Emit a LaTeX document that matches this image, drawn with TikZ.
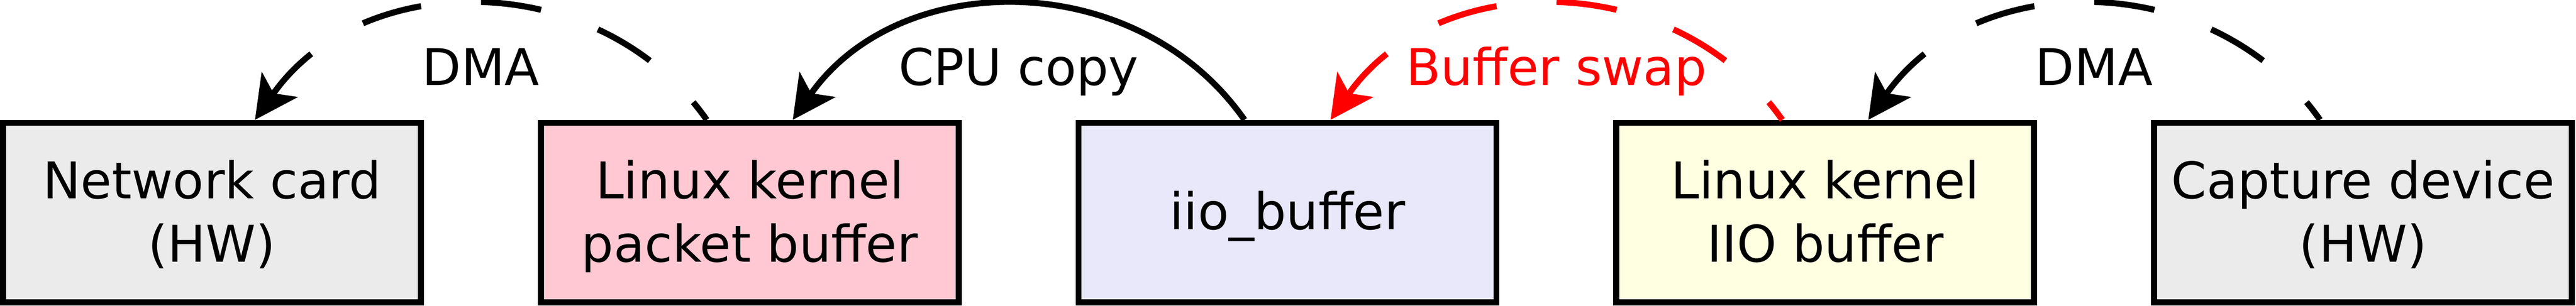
\documentclass[tikz,border=0pt]{standalone}
\usepackage{fontspec}
\setmainfont{DejaVu Sans}
\usetikzlibrary{positioning,arrows.meta}
\definecolor{hwgray}{RGB}{235,235,235}
\definecolor{pktpink}{RGB}{255,200,210}
\definecolor{iioblue}{RGB}{232,232,250}
\definecolor{iioyellow}{RGB}{255,255,225}
\begin{document}
\begin{tikzpicture}
			[block/.style={rectangle,draw,line width=1.2pt,minimum width=82.6pt,minimum height=35.5pt,align=center,
				font=\fontsize{10pt}{12.5pt}\selectfont,text height=20pt,text depth=0.5pt},
			lbl/.style={inner sep=0pt,font=\fontsize{10pt}{12pt}\selectfont,text height=7.29pt,text depth=0pt},
			dma/.style={dash pattern=on 12pt off 11.9pt,dash phase=7.6pt},
			>={Stealth[length=8.5pt,width=8.6pt,inset=2.1pt]},node distance=22.5pt]
			\useasboundingbox (0,0) rectangle (509.2pt,60.4pt);
			\node[block,name=net,fill=hwgray,anchor=south west] at (0,0) {Network card\\(HW)};
			\node[block,name=pkt,fill=pktpink,right=of net] {Linux kernel\\packet buffer};
			\node[block,name=iio,fill=iioblue,right=of pkt,text height=7.5pt,text depth=0.8pt] {iio\_buffer};
			\node[block,name=kbuf,fill=iioyellow,right=of iio] {Linux kernel\\IIO buffer};
			\node[block,name=cap,fill=hwgray,right=of kbuf] {Capture device\\(HW)};
			% copies between the buffers
			\draw[->,line width=1.2pt,dma]([xshift=-8.5pt]pkt.north) to [bend right=55,looseness=1.06] node[lbl,midway,below=7.9pt]{DMA} ([xshift=8.5pt]net.north);
			\draw[->,line width=1.2pt]([xshift=-8.5pt]iio.north) to [bend right=55,looseness=1.06] node[lbl,midway,below=7.9pt]{CPU copy} ([xshift=8.5pt]pkt.north);
			\draw[->,line width=1.2pt,dma,red]([xshift=-8.5pt]kbuf.north) to [bend right=55,looseness=1.06] node[lbl,midway,below=7.9pt]{Buffer swap} ([xshift=8.5pt]iio.north);
			\draw[->,line width=1.2pt,dma]([xshift=-8.5pt]cap.north) to [bend right=55,looseness=1.06] node[lbl,midway,below=7.9pt]{DMA} ([xshift=8.5pt]kbuf.north);
		\end{tikzpicture}
\end{document}
